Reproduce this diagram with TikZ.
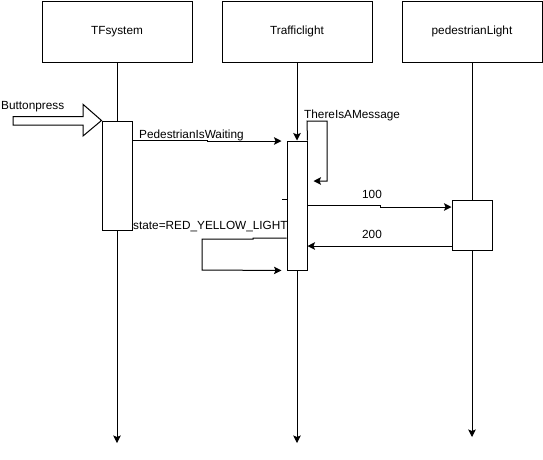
\documentclass[tikz,border=0pt]{standalone}
\usepackage{fontspec}
\setmainfont{Liberation Sans}
\usetikzlibrary{arrows.meta}
\begin{document}
\begin{tikzpicture}[x=1pt,y=-1pt,
  every node/.style={font=\fontsize{11.8}{14}\selectfont},
  line/.style={draw=black,line width=1pt},
  head/.style={line,minimum width=150pt,minimum height=61pt,inner sep=0pt},
  actbox/.style={line,fill=white,inner sep=0pt},
  msg/.style={line,-{Stealth[length=7.5pt,width=7.5pt,inset=1.5pt]}},
  lbl/.style={inner sep=0pt,anchor=base west}]
\useasboundingbox (0,0) rectangle (543,459);

% participants
\node[head] (hTF) at (117,31.5) {TFsystem};
\node[head] (hTL) at (297,31.5) {Trafficlight};
\node[head,minimum width=140pt] (hPL) at (472,31.5) {pedestrianLight};

% lifeline ends
\coordinate (eTF) at (117,443);
\coordinate (eTL) at (297,443);
\coordinate (ePL) at (472,437);

% activation boxes
\node[actbox,minimum width=30pt,minimum height=109pt] (aTF) at (117,175.5) {};
\node[actbox,minimum width=20pt,minimum height=129pt] (aTL) at (297,205.5) {};
\node[actbox,minimum width=40pt,minimum height=50pt] (aPL) at (472,225) {};

% lifelines
\draw[line] (hTF.south) -- (aTF.north);
\draw[msg] (aTF.south) -- (eTF);
\draw[msg] (hTL.south) -- (aTL.north);
\draw[msg] (aTL.south) -- (eTL);
\draw[line] (hPL.south) -- (aPL.north);
\draw[msg] (aPL.south) -- (ePL);

% external trigger
\coordinate (bp1) at (13,116.7);
\draw[line] (bp1) -- (83,116.7) -- (83,104.3) -- (aTF.north west) -- (83,136)
  -- (83,125) -- (13,125) -- cycle;
\node[lbl] (tBP) at (1,109) {Buttonpress};

% messages
\draw[msg,shorten >=5pt] (aTF.east |- 0,140.5) -- (207,140.5) -- (207,141)
  -- (aTL.west |- 0,141);
\node[lbl] (tPW) at (139,138.5) {PedestrianIsWaiting};

\draw[msg,shorten >=6pt] (aTL.north east) -- (307,121) -- (327,121) -- (327,181)
  -- (aTL.east |- 0,181);
\node[lbl] (tTM) at (304,118) {ThereIsAMessage};

\draw[line] (282,199) -- (aTL.west |- 0,199);

\draw[msg] (aTL.east |- 0,205) -- (380,205) -- (380,207) -- (aPL.west |- 0,207);
\node[lbl,anchor=base] (t100) at (372,198.5) {100};

\draw[msg] (aPL.west |- 0,246) -- (aTL.east |- 0,246);
\node[lbl,anchor=base] (t200) at (372,238.5) {200};

\draw[msg,shorten >=5pt] (aTL.west |- 0,238) -- (253,238) -- (253,239) -- (202,239)
  -- (202,270) -- (aTL.south west);
\node[lbl] (tST) at (133,229) {state=RED\_YELLOW\_LIGHT};
\end{tikzpicture}
\end{document}
